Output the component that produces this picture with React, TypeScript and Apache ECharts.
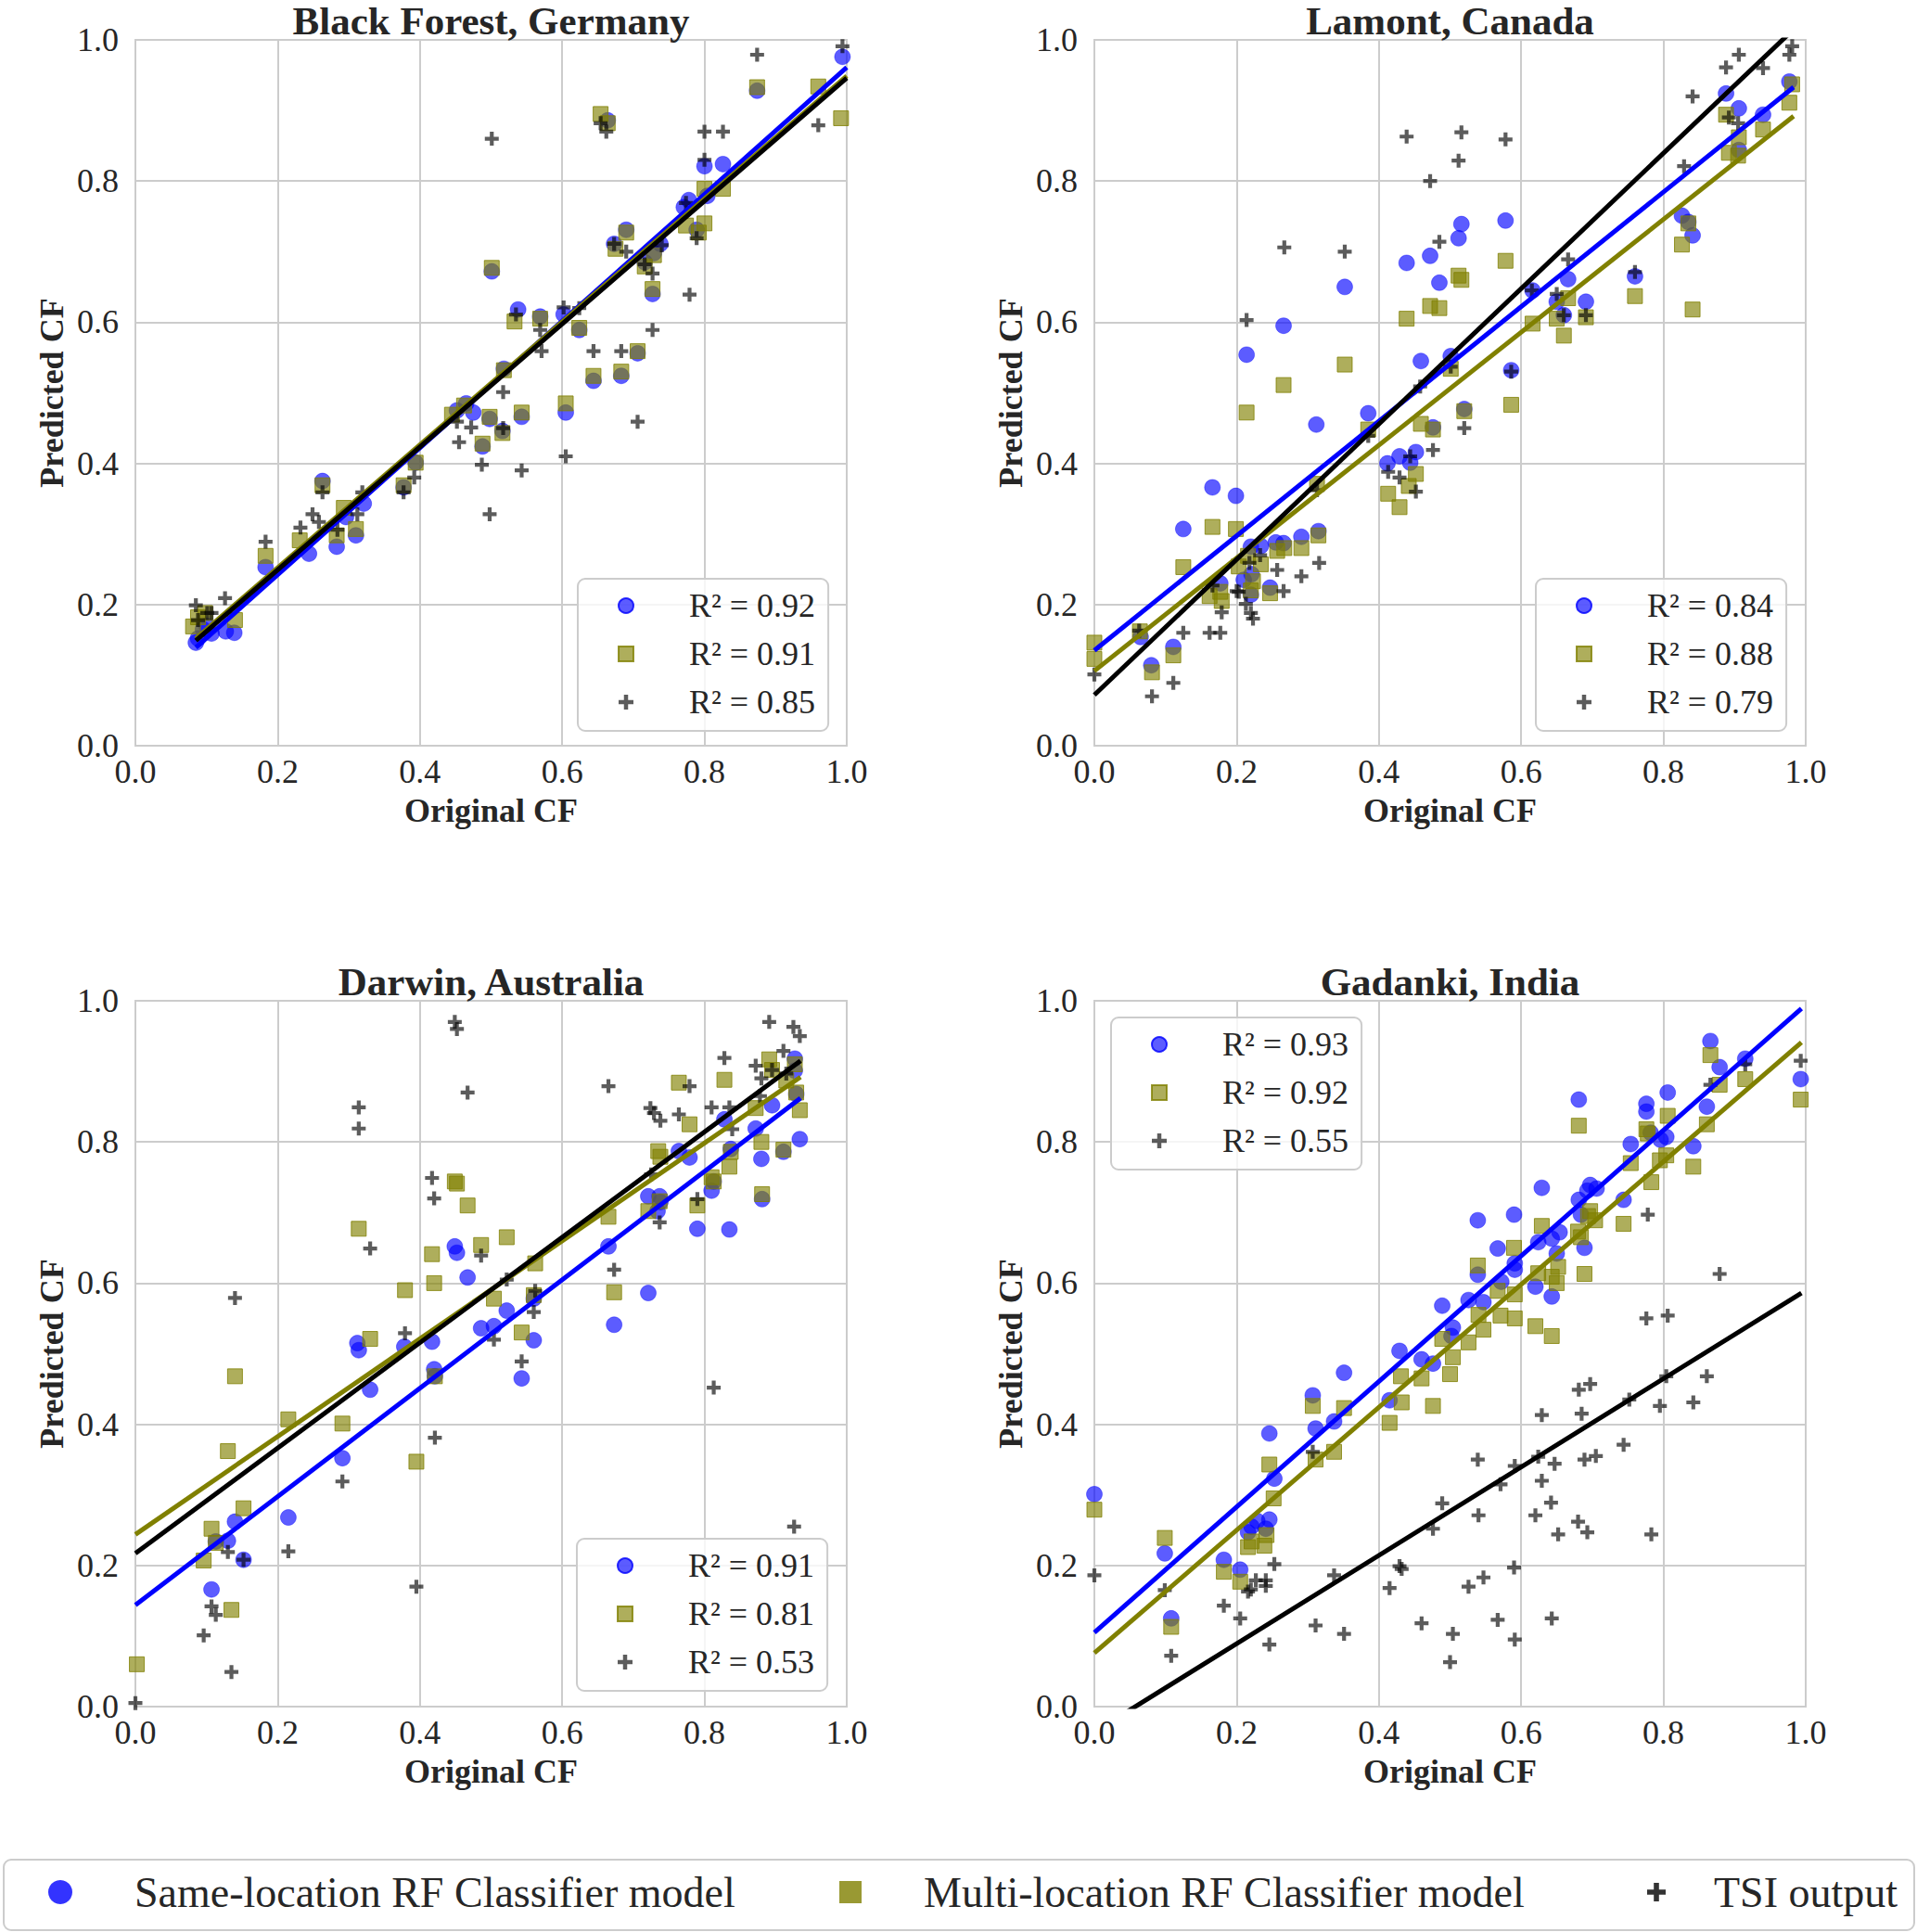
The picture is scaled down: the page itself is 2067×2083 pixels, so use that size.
import React, { useEffect, useRef } from "react";
import * as echarts from "echarts";

// ---------- DATA ----------
const panelTitles = ["Black Forest, Germany", "Lamont, Canada", "Darwin, Australia", "Gadanki, India"];
const modelNames = ["Same-location RF Classifier model", "Multi-location RF Classifier model", "TSI output"];
const xAxisName = "Original CF";
const yAxisName = "Predicted CF";

// R² values per panel: [same, multi, tsi]
const bfR2 = ["0.92", "0.91", "0.85"];
const laR2 = ["0.84", "0.88", "0.79"];
const daR2 = ["0.91", "0.81", "0.53"];
const gaR2 = ["0.93", "0.92", "0.55"];

// Black Forest, Germany
const bfSame = [[0.085,0.146],[0.088,0.152],[0.095,0.165],[0.1,0.17],[0.107,0.159],[0.127,0.162],[0.139,0.160],[0.183,0.253],[0.244,0.272],[0.263,0.375],[0.283,0.282],[0.296,0.324],[0.310,0.298],[0.321,0.343],[0.377,0.366],[0.394,0.401],[0.452,0.475],[0.465,0.485],[0.475,0.472],[0.488,0.424],[0.498,0.463],[0.501,0.672],[0.516,0.446],[0.518,0.534],[0.538,0.618],[0.543,0.466],[0.569,0.608],[0.602,0.611],[0.605,0.472],[0.624,0.589],[0.644,0.517],[0.664,0.886],[0.673,0.711],[0.683,0.524],[0.690,0.731],[0.706,0.556],[0.716,0.685],[0.727,0.640],[0.729,0.698],[0.738,0.711],[0.771,0.763],[0.778,0.773],[0.789,0.731],[0.800,0.821],[0.804,0.779],[0.826,0.824],[0.874,0.928],[0.994,0.976]];
const bfMulti = [[0.081,0.169],[0.088,0.182],[0.098,0.188],[0.140,0.178],[0.183,0.269],[0.231,0.291],[0.263,0.369],[0.283,0.298],[0.293,0.337],[0.310,0.307],[0.377,0.369],[0.394,0.401],[0.445,0.469],[0.462,0.482],[0.498,0.466],[0.488,0.428],[0.501,0.677],[0.516,0.443],[0.518,0.532],[0.533,0.601],[0.543,0.472],[0.569,0.605],[0.605,0.485],[0.624,0.592],[0.644,0.524],[0.654,0.895],[0.664,0.882],[0.683,0.530],[0.675,0.704],[0.690,0.727],[0.706,0.559],[0.716,0.679],[0.727,0.647],[0.729,0.695],[0.774,0.737],[0.792,0.727],[0.800,0.740],[0.800,0.789],[0.826,0.789],[0.874,0.933],[0.960,0.934],[0.992,0.889]];
const bfTsi = [[0.085,0.199],[0.088,0.178],[0.101,0.188],[0.107,0.188],[0.126,0.209],[0.183,0.289],[0.232,0.309],[0.249,0.328],[0.258,0.317],[0.263,0.359],[0.284,0.306],[0.312,0.328],[0.319,0.359],[0.377,0.359],[0.392,0.380],[0.452,0.459],[0.455,0.430],[0.472,0.451],[0.487,0.398],[0.498,0.328],[0.501,0.860],[0.517,0.501],[0.517,0.450],[0.535,0.611],[0.543,0.390],[0.569,0.589],[0.571,0.559],[0.602,0.621],[0.605,0.410],[0.624,0.620],[0.644,0.559],[0.654,0.882],[0.662,0.870],[0.673,0.711],[0.683,0.559],[0.690,0.700],[0.706,0.459],[0.716,0.682],[0.727,0.669],[0.727,0.589],[0.740,0.709],[0.774,0.769],[0.779,0.639],[0.789,0.719],[0.800,0.870],[0.800,0.830],[0.826,0.870],[0.874,0.979],[0.960,0.879],[0.994,0.991]];
const bfFitSame = [[0.085,0.139],[1.0,0.961]];
const bfFitMulti = [[0.085,0.152],[1.0,0.949]];
const bfFitTsi = [[0.085,0.149],[1.0,0.946]];

// Lamont, Canada
const laSame = [[0.065,0.154],[0.080,0.114],[0.111,0.140],[0.125,0.307],[0.166,0.366],[0.177,0.230],[0.199,0.354],[0.214,0.554],[0.210,0.235],[0.220,0.282],[0.221,0.243],[0.220,0.214],[0.234,0.283],[0.247,0.224],[0.255,0.288],[0.266,0.595],[0.266,0.287],[0.291,0.296],[0.312,0.455],[0.315,0.304],[0.352,0.650],[0.385,0.471],[0.412,0.400],[0.429,0.410],[0.439,0.684],[0.444,0.401],[0.452,0.416],[0.459,0.545],[0.472,0.694],[0.476,0.451],[0.485,0.656],[0.501,0.552],[0.512,0.719],[0.516,0.739],[0.520,0.477],[0.578,0.744],[0.586,0.532],[0.616,0.645],[0.650,0.629],[0.660,0.610],[0.666,0.661],[0.691,0.629],[0.760,0.665],[0.826,0.751],[0.835,0.742],[0.841,0.723],[0.888,0.924],[0.906,0.903],[0.906,0.844],[0.940,0.894],[0.977,0.941]];
const laMulti = [[0.0,0.146],[0.0,0.123],[0.064,0.162],[0.081,0.104],[0.111,0.128],[0.125,0.253],[0.162,0.212],[0.166,0.310],[0.177,0.218],[0.179,0.205],[0.199,0.307],[0.203,0.254],[0.214,0.472],[0.216,0.269],[0.220,0.220],[0.223,0.233],[0.234,0.257],[0.247,0.216],[0.257,0.276],[0.266,0.511],[0.267,0.280],[0.291,0.280],[0.315,0.298],[0.313,0.371],[0.352,0.540],[0.385,0.448],[0.413,0.357],[0.429,0.338],[0.439,0.605],[0.442,0.368],[0.452,0.385],[0.459,0.456],[0.472,0.623],[0.476,0.448],[0.485,0.620],[0.501,0.534],[0.512,0.666],[0.516,0.660],[0.520,0.474],[0.578,0.687],[0.586,0.483],[0.616,0.598],[0.650,0.605],[0.660,0.581],[0.666,0.634],[0.691,0.607],[0.760,0.637],[0.826,0.710],[0.835,0.740],[0.841,0.618],[0.888,0.894],[0.892,0.840],[0.905,0.836],[0.906,0.862],[0.940,0.873],[0.977,0.911],[0.981,0.937]];
const laTsi = [[0.0,0.101],[0.063,0.163],[0.081,0.070],[0.111,0.089],[0.125,0.160],[0.162,0.160],[0.177,0.160],[0.179,0.189],[0.166,0.227],[0.200,0.219],[0.203,0.218],[0.213,0.201],[0.214,0.603],[0.218,0.259],[0.220,0.188],[0.223,0.180],[0.233,0.270],[0.257,0.249],[0.266,0.219],[0.267,0.706],[0.291,0.240],[0.316,0.259],[0.313,0.362],[0.352,0.700],[0.385,0.439],[0.413,0.388],[0.429,0.380],[0.439,0.863],[0.444,0.410],[0.452,0.360],[0.458,0.509],[0.472,0.800],[0.476,0.419],[0.485,0.714],[0.501,0.537],[0.512,0.829],[0.516,0.869],[0.520,0.450],[0.578,0.859],[0.586,0.530],[0.615,0.645],[0.650,0.640],[0.660,0.610],[0.666,0.689],[0.691,0.610],[0.760,0.671],[0.829,0.821],[0.841,0.920],[0.888,0.961],[0.892,0.890],[0.905,0.882],[0.906,0.979],[0.940,0.960],[0.977,0.979],[0.981,0.991]];
const laFitSame = [[0.0,0.135],[0.983,0.933]];
const laFitMulti = [[0.0,0.106],[0.983,0.892]];
const laFitTsi = [[0.0,0.072],[0.983,1.015]];

// Darwin, Australia
const daSame = [[0.107,0.166],[0.113,0.234],[0.130,0.235],[0.140,0.262],[0.152,0.208],[0.215,0.268],[0.291,0.352],[0.312,0.515],[0.314,0.505],[0.330,0.449],[0.378,0.510],[0.417,0.517],[0.420,0.478],[0.421,0.468],[0.449,0.652],[0.452,0.643],[0.467,0.608],[0.486,0.536],[0.504,0.539],[0.522,0.561],[0.543,0.465],[0.560,0.519],[0.560,0.578],[0.665,0.652],[0.673,0.541],[0.721,0.586],[0.721,0.723],[0.734,0.702],[0.737,0.723],[0.738,0.715],[0.764,0.787],[0.779,0.778],[0.790,0.677],[0.810,0.731],[0.813,0.744],[0.828,0.832],[0.835,0.676],[0.837,0.790],[0.872,0.819],[0.880,0.776],[0.881,0.719],[0.895,0.852],[0.911,0.786],[0.927,0.918],[0.927,0.901],[0.929,0.868],[0.934,0.804]];
const daMulti = [[0.002,0.060],[0.096,0.207],[0.107,0.252],[0.113,0.232],[0.130,0.362],[0.135,0.137],[0.140,0.468],[0.152,0.281],[0.215,0.407],[0.291,0.401],[0.314,0.677],[0.330,0.521],[0.379,0.590],[0.395,0.347],[0.417,0.641],[0.420,0.600],[0.421,0.468],[0.449,0.744],[0.452,0.741],[0.467,0.710],[0.486,0.654],[0.504,0.578],[0.522,0.665],[0.543,0.530],[0.560,0.583],[0.562,0.628],[0.665,0.694],[0.673,0.587],[0.721,0.702],[0.735,0.787],[0.737,0.716],[0.738,0.779],[0.764,0.884],[0.779,0.825],[0.790,0.710],[0.810,0.750],[0.813,0.744],[0.828,0.888],[0.835,0.765],[0.837,0.786],[0.872,0.848],[0.880,0.800],[0.881,0.726],[0.891,0.917],[0.895,0.902],[0.911,0.789],[0.915,0.887],[0.927,0.910],[0.929,0.870],[0.934,0.845]];
const daTsi = [[0.0,0.005],[0.096,0.101],[0.107,0.142],[0.113,0.130],[0.130,0.219],[0.135,0.049],[0.140,0.579],[0.152,0.208],[0.215,0.220],[0.291,0.319],[0.314,0.849],[0.314,0.819],[0.330,0.649],[0.379,0.529],[0.395,0.170],[0.417,0.749],[0.420,0.720],[0.421,0.381],[0.449,0.970],[0.452,0.960],[0.467,0.870],[0.486,0.639],[0.504,0.520],[0.522,0.605],[0.543,0.489],[0.560,0.559],[0.562,0.589],[0.665,0.879],[0.673,0.619],[0.724,0.848],[0.729,0.841],[0.738,0.830],[0.725,0.754],[0.737,0.686],[0.764,0.839],[0.779,0.879],[0.790,0.719],[0.810,0.849],[0.813,0.452],[0.828,0.919],[0.835,0.849],[0.839,0.818],[0.872,0.908],[0.880,0.890],[0.878,0.865],[0.891,0.970],[0.895,0.902],[0.911,0.929],[0.915,0.897],[0.925,0.963],[0.934,0.950],[0.926,0.255]];
const daFitSame = [[0.0,0.144],[0.935,0.862]];
const daFitMulti = [[0.0,0.244],[0.935,0.892]];
const daFitTsi = [[0.0,0.217],[0.935,0.915]];

// Gadanki, India
const gaSame = [[0.0,0.301],[0.099,0.217],[0.108,0.125],[0.182,0.208],[0.205,0.194],[0.216,0.247],[0.221,0.255],[0.229,0.263],[0.241,0.252],[0.246,0.265],[0.246,0.387],[0.253,0.323],[0.307,0.441],[0.311,0.394],[0.337,0.404],[0.351,0.473],[0.415,0.434],[0.429,0.504],[0.460,0.492],[0.476,0.486],[0.489,0.568],[0.504,0.537],[0.502,0.525],[0.526,0.576],[0.539,0.689],[0.539,0.612],[0.547,0.573],[0.567,0.649],[0.572,0.602],[0.590,0.697],[0.591,0.628],[0.591,0.619],[0.620,0.595],[0.624,0.658],[0.629,0.735],[0.643,0.581],[0.643,0.663],[0.650,0.642],[0.654,0.672],[0.681,0.860],[0.681,0.718],[0.684,0.697],[0.689,0.650],[0.693,0.731],[0.697,0.739],[0.706,0.734],[0.744,0.718],[0.754,0.797],[0.776,0.854],[0.776,0.843],[0.782,0.813],[0.796,0.803],[0.804,0.807],[0.806,0.870],[0.842,0.794],[0.861,0.850],[0.866,0.943],[0.879,0.906],[0.915,0.918],[0.993,0.889]];
const gaMulti = [[0.0,0.279],[0.099,0.239],[0.108,0.113],[0.182,0.191],[0.205,0.177],[0.216,0.226],[0.221,0.234],[0.239,0.228],[0.242,0.243],[0.246,0.343],[0.252,0.295],[0.307,0.426],[0.311,0.350],[0.337,0.361],[0.351,0.423],[0.415,0.402],[0.431,0.468],[0.432,0.431],[0.460,0.465],[0.476,0.426],[0.489,0.521],[0.504,0.495],[0.500,0.471],[0.526,0.516],[0.539,0.625],[0.540,0.555],[0.547,0.534],[0.567,0.589],[0.571,0.554],[0.590,0.650],[0.591,0.584],[0.591,0.550],[0.620,0.539],[0.624,0.614],[0.629,0.681],[0.643,0.525],[0.643,0.609],[0.650,0.600],[0.652,0.623],[0.681,0.823],[0.680,0.673],[0.684,0.665],[0.689,0.613],[0.694,0.695],[0.697,0.702],[0.704,0.689],[0.744,0.684],[0.754,0.770],[0.776,0.818],[0.778,0.812],[0.783,0.743],[0.795,0.774],[0.804,0.781],[0.806,0.837],[0.842,0.765],[0.861,0.825],[0.866,0.923],[0.879,0.881],[0.915,0.889],[0.993,0.860]];
const gaTsi = [[0.0,0.186],[0.099,0.165],[0.108,0.072],[0.182,0.143],[0.205,0.125],[0.216,0.163],[0.220,0.166],[0.227,0.179],[0.241,0.179],[0.241,0.171],[0.246,0.088],[0.253,0.202],[0.307,0.361],[0.311,0.115],[0.337,0.186],[0.351,0.103],[0.415,0.168],[0.429,0.199],[0.432,0.195],[0.460,0.118],[0.476,0.252],[0.489,0.288],[0.504,0.103],[0.500,0.063],[0.526,0.170],[0.539,0.350],[0.540,0.271],[0.547,0.183],[0.567,0.123],[0.571,0.315],[0.590,0.197],[0.591,0.341],[0.591,0.095],[0.620,0.271],[0.624,0.354],[0.629,0.413],[0.629,0.320],[0.642,0.289],[0.643,0.125],[0.647,0.344],[0.652,0.244],[0.680,0.262],[0.681,0.449],[0.685,0.415],[0.689,0.350],[0.693,0.247],[0.697,0.457],[0.705,0.355],[0.744,0.371],[0.752,0.435],[0.776,0.550],[0.778,0.697],[0.783,0.244],[0.795,0.426],[0.804,0.468],[0.806,0.554],[0.842,0.431],[0.861,0.468],[0.866,0.881],[0.879,0.613],[0.915,0.910],[0.993,0.915]];
const gaFitSame = [[0.0,0.105],[0.994,0.989]];
const gaFitMulti = [[0.0,0.076],[0.994,0.941]];
const gaFitTsi = [[0.0,-0.036],[0.994,0.586]];

// ---------- STYLE / LAYOUT ----------
const FONT = "'Liberation Serif', 'DejaVu Serif', serif";
const TEXT = "#262626";
const GRIDC = "#cccccc";
const BLUE = "#0000ff";
const OLIVE = "#808000";
const BLUE_F = "rgba(0,0,255,0.8)";
const OLIVE_F = "rgba(128,128,0,0.8)";
const BLACK_F = "rgba(0,0,0,0.8)";
const PLUS = "path://M3.6,0H6.4V3.6H10V6.4H6.4V10H3.6V6.4H0V3.6H3.6Z";

const gridBoxes = [
  { left: 146, top: 43 },
  { left: 1180, top: 43 },
  { left: 146, top: 1079 },
  { left: 1180, top: 1079 },
];
const GW = 767;
const GH = 761;
const titleTops = [0, 0, 1036, 1036];
const legendBoxes = [
  { left: 623, top: 624 },
  { left: 1656, top: 624 },
  { left: 622, top: 1659 },
  { left: 1198, top: 1097 },
];

const panels = [
  { id: "bf", same: bfSame, multi: bfMulti, tsi: bfTsi, fits: [bfFitSame, bfFitMulti, bfFitTsi], r2: bfR2 },
  { id: "la", same: laSame, multi: laMulti, tsi: laTsi, fits: [laFitSame, laFitMulti, laFitTsi], r2: laR2 },
  { id: "da", same: daSame, multi: daMulti, tsi: daTsi, fits: [daFitSame, daFitMulti, daFitTsi], r2: daR2 },
  { id: "ga", same: gaSame, multi: gaMulti, tsi: gaTsi, fits: [gaFitSame, gaFitMulti, gaFitTsi], r2: gaR2 },
];

function buildOption() {
  const labelMap: Record<string, string> = {};
  const grid: any[] = [];
  const xAxis: any[] = [];
  const yAxis: any[] = [];
  const title: any[] = [];
  const legend: any[] = [];
  const series: any[] = [];

  panels.forEach((p, i) => {
    const g = gridBoxes[i];
    grid.push({
      left: g.left, top: g.top, width: GW, height: GH,
      show: true, borderColor: GRIDC, borderWidth: 2, backgroundColor: "#ffffff",
    });
    const axisCommon = {
      gridIndex: i, type: "value", min: 0, max: 1, interval: 0.2,
      axisLine: { show: false }, axisTick: { show: false },
      splitLine: { show: true, lineStyle: { color: GRIDC, width: 2 } },
      nameLocation: "middle",
      nameTextStyle: { fontFamily: FONT, fontSize: 36, fontWeight: "bold", color: TEXT },
    };
    xAxis.push({
      ...axisCommon, name: xAxisName, nameGap: 52,
      axisLabel: { margin: 10, fontFamily: FONT, fontSize: 36, color: TEXT, formatter: (v: number) => v.toFixed(1), showMinLabel: true, showMaxLabel: true },
    });
    yAxis.push({
      ...axisCommon, name: yAxisName, nameGap: 72,
      axisLabel: { margin: 18, fontFamily: FONT, fontSize: 36, color: TEXT, formatter: (v: number) => v.toFixed(1), showMinLabel: true, showMaxLabel: true },
    });
    title.push({
      text: panelTitles[i], left: g.left + GW / 2, top: titleTops[i], textAlign: "center", padding: 0,
      textStyle: { fontFamily: FONT, fontSize: 43, fontWeight: "bold", color: TEXT, lineHeight: 44 },
    });

    const names = [p.id + "-same", p.id + "-multi", p.id + "-tsi"];
    names.forEach((n, k) => (labelMap[n] = "R² = " + p.r2[k]));

    series.push(
      { name: names[0], type: "scatter", xAxisIndex: i, yAxisIndex: i, data: p.same, symbol: "circle", symbolSize: 17, itemStyle: { color: BLUE_F, borderColor: BLUE, borderWidth: 0.5 }, z: 2 },
      { name: names[1], type: "scatter", xAxisIndex: i, yAxisIndex: i, data: p.multi, symbol: "rect", symbolSize: 16, itemStyle: { color: OLIVE_F, borderColor: OLIVE, borderWidth: 1 }, z: 3 },
      { name: names[2], type: "scatter", xAxisIndex: i, yAxisIndex: i, data: p.tsi, symbol: PLUS, symbolSize: 15, itemStyle: { color: BLACK_F }, z: 4 },
      { type: "line", xAxisIndex: i, yAxisIndex: i, data: p.fits[0], showSymbol: false, symbol: "none", lineStyle: { color: BLUE, width: 5 }, z: 5, silent: true },
      { type: "line", xAxisIndex: i, yAxisIndex: i, data: p.fits[1], showSymbol: false, symbol: "none", lineStyle: { color: OLIVE, width: 5 }, z: 6, silent: true },
      { type: "line", xAxisIndex: i, yAxisIndex: i, data: p.fits[2], showSymbol: false, symbol: "none", lineStyle: { color: "#000000", width: 5 }, z: 7, silent: true },
    );

    const lb = legendBoxes[i];
    legend.push({
      left: lb.left, top: lb.top, orient: "vertical", selectedMode: false,
      backgroundColor: "rgba(255,255,255,0.8)", borderColor: GRIDC, borderWidth: 2, borderRadius: 8,
      padding: [8, 14, 10, 43], itemGap: 10, itemWidth: 16, itemHeight: 16,
      data: [
        { name: names[0], icon: "circle", itemStyle: { color: BLUE_F } },
        { name: names[1], icon: "rect", itemStyle: { color: OLIVE_F } },
        { name: names[2], icon: PLUS, itemStyle: { color: BLACK_F } },
      ],
      formatter: (n: string) => "{s|}" + labelMap[n],
      textStyle: { fontFamily: FONT, fontSize: 36, color: TEXT, lineHeight: 42, rich: { s: { width: 55, lineHeight: 42 } } },
      z: 10,
    });
  });

  // figure legend (dummy series carry the names)
  series.push(
    { name: modelNames[0], type: "scatter", xAxisIndex: 0, yAxisIndex: 0, data: [], symbol: "circle", itemStyle: { color: BLUE } },
    { name: modelNames[1], type: "scatter", xAxisIndex: 0, yAxisIndex: 0, data: [], symbol: "rect", itemStyle: { color: OLIVE } },
    { name: modelNames[2], type: "scatter", xAxisIndex: 0, yAxisIndex: 0, data: [], symbol: PLUS, itemStyle: { color: "#000000" } },
  );
  const figLeg = [
    { left: 52, size: 26, icon: "circle", color: BLUE, gap: 62 },
    { left: 905, size: 24, icon: "rect", color: OLIVE, gap: 62 },
    { left: 1776, size: 20, icon: PLUS, color: "#000000", gap: 47 },
  ];
  figLeg.forEach((f, k) => {
    legend.push({
      left: f.left, top: 2015, orient: "horizontal", selectedMode: false, padding: 0,
      itemWidth: f.size, itemHeight: f.size,
      data: [{ name: modelNames[k], icon: f.icon, itemStyle: { color: f.color } }],
      formatter: (n: string) => "{s|}" + n,
      textStyle: { fontFamily: FONT, fontSize: 46, color: TEXT, lineHeight: 50, rich: { s: { width: f.gap, lineHeight: 50 } } },
      z: 10,
    });
  });

  return {
    animation: false,
    backgroundColor: "#ffffff",
    textStyle: { fontFamily: FONT },
    grid, xAxis, yAxis, title, legend, series,
    graphic: [
      {
        type: "rect", left: 3, top: 2004, z: 0,
        shape: { width: 2060, height: 76, r: 8 },
        style: { fill: "#ffffff", stroke: GRIDC, lineWidth: 2 },
      },
    ],
  };
}

export default function App() {
  const ref = useRef<HTMLDivElement | null>(null);
  useEffect(() => {
    if (!ref.current) return;
    const chart = echarts.init(ref.current, undefined, { renderer: "svg" });
    chart.setOption(buildOption() as any);
    return () => chart.dispose();
  }, []);
  return (
    <div
      ref={ref}
      style={{ position: "absolute", left: 0, top: 0, width: 2067, height: 2083, background: "#ffffff" }}
    />
  );
}
